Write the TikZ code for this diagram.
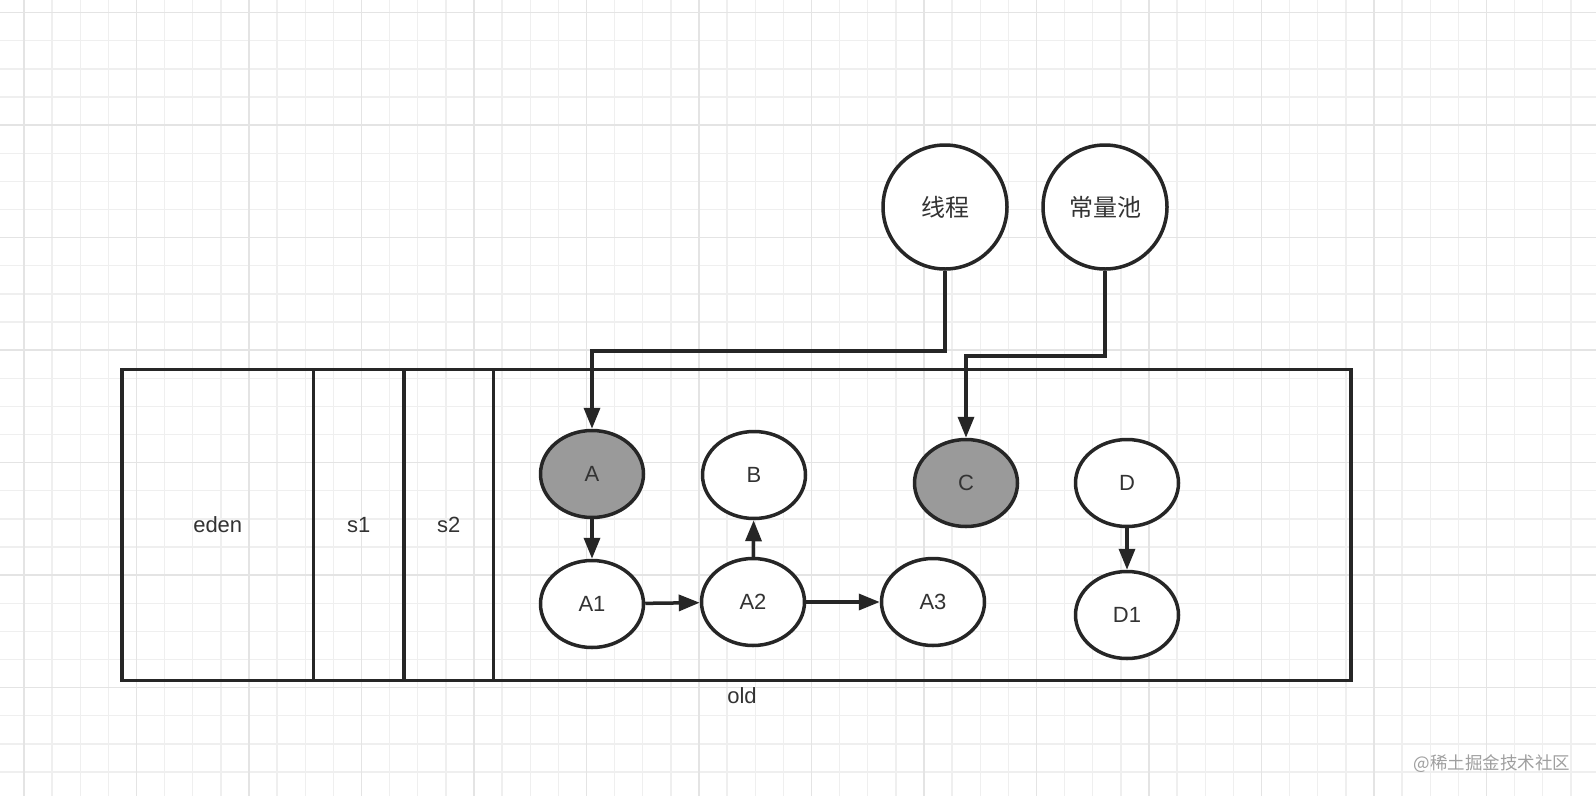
\documentclass[tikz,border=0pt]{standalone}
\usepackage{fontspec}
\setmainfont{Liberation Sans}
\newfontfamily\cjkfont{Noto Sans CJK SC}
\usetikzlibrary{shapes.geometric, arrows.meta, positioning}
\definecolor{inkgray}{HTML}{262626}
\definecolor{textgray}{HTML}{333333}
\definecolor{markgray}{HTML}{9A9A9A}
\definecolor{gridminor}{HTML}{EFEFEF}
\definecolor{gridmajor}{HTML}{E4E4E4}

\begin{document}
\begin{tikzpicture}[
  x=1pt, y=-1pt,
  every node/.style={font=\fontsize{22}{26}\selectfont, text=textgray},
  region/.style={rectangle, draw=inkgray, line width=3.5pt, minimum height=311pt, inner sep=0pt, outer sep=0pt},
  obj/.style={ellipse, draw=inkgray, line width=3.5pt, fill=white, minimum width=103pt, minimum height=87pt, inner sep=0pt},
  marked/.style={obj, fill=markgray},
  root/.style={circle, draw=inkgray, line width=3.5pt, fill=white, minimum size=124pt, inner sep=0pt, font=\cjkfont\fontsize{24}{28}\selectfont},
  conn/.style={draw=inkgray, line width=3.5pt, -{Triangle[length=21pt,width=16pt]}}
]
\useasboundingbox (0,0) rectangle (1596,796);
\fill[white] (0,0) rectangle (1596,796);

% background grid
\foreach \i in {0,...,56}
  \draw[gridminor, line width=1.3pt] ({24+28.125*\i},0) -- ({24+28.125*\i},796);
\foreach \j in {0,...,27}
  \draw[gridminor, line width=1.3pt] (0,{12.7+28.125*\j}) -- (1596,{12.7+28.125*\j});
\foreach \i in {0,...,14}
  \draw[gridmajor, line width=1.5pt] ({24+112.5*\i},0) -- ({24+112.5*\i},796);
\foreach \j in {0,...,7}
  \draw[gridmajor, line width=1.5pt] (0,{12.7+112.5*\j}) -- (1596,{12.7+112.5*\j});

% heap regions
\node[region, anchor=north west, minimum width=191.5pt] (eden) at (122,369.5) {eden};
\node[region, minimum width=90.5pt, right=0pt of eden] (s1) {s1};
\node[region, minimum width=89.7pt, right=0pt of s1] (s2) {s2};
\node[region, minimum width=857.3pt, right=0pt of s2] (old) {};
\node (oldlabel) at (742,696) {old};

% objects
\node[marked] (A) at (592,474) {A};
\node[obj] (B) at (754,475) {B};
\node[marked] (C) at (966,483) {C};
\node[obj] (D) at (1127,483) {D};
\node[obj] (A1) at (592,604) {A1};
\node[obj] (A2) at (753,602) {A2};
\node[obj] (A3) at (933,602) {A3};
\node[obj] (D1) at (1127,615) {D1};

% gc roots
\node[root] (thread) at (945,207) {线程};
\node[root] (pool) at (1105,207) {常量池};

% references
\draw[conn] (thread.south) -- ++(0,80) -| (A.north);
\draw[conn] (pool.south) -- ++(0,85) -| (C.north);
\draw[conn] (A) -- (A1);
\draw[conn] (A1) -- (A2);
\draw[conn] (A2) -- (B);
\draw[conn] (A2) -- (A3);
\draw[conn] (D) -- (D1);

\node[font=\cjkfont\fontsize{17.5}{20}\selectfont, text=gray!75, anchor=east] (mark) at (1574,764) {@稀土掘金技术社区};
\end{tikzpicture}
\end{document}
